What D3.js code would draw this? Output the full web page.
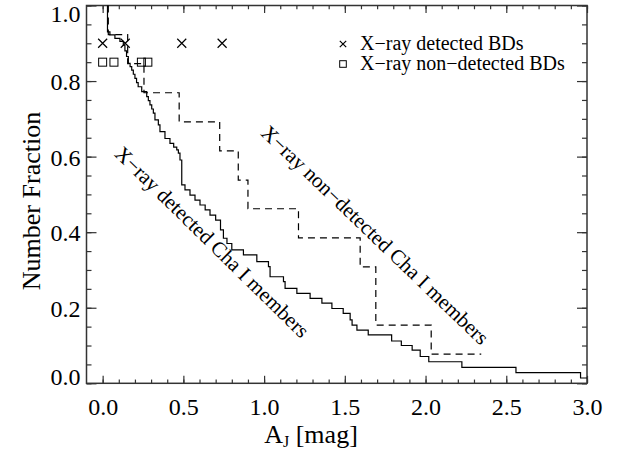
<!DOCTYPE html>
<html>
<head>
<meta charset="utf-8">
<script src="https://cdn.jsdelivr.net/npm/d3@7"></script>
<style>
  body { margin: 0; background: #fff; }
  text { font-family: "Liberation Serif", "Times New Roman", serif; fill: #000; }
</style>
</head>
<body>
<svg id="chart" width="626" height="450"></svg>
<script>
// X-ray detected Cha I members: A_J where the fraction steps down, and the fraction after the step
const solidAJ = [0.03, 0.045, 0.076, 0.107, 0.128, 0.138, 0.148, 0.159, 0.17, 0.18, 0.19, 0.20, 0.21, 0.22,
  0.242, 0.273, 0.283, 0.293, 0.304, 0.314, 0.324, 0.345, 0.355, 0.386, 0.417, 0.44, 0.459, 0.469, 0.479,
  0.49, 0.51, 0.541, 0.572, 0.603, 0.635, 0.665, 0.70, 0.73, 0.748, 0.77, 0.80, 0.872, 0.955, 1.027, 1.037,
  1.12, 1.13, 1.203, 1.285, 1.358, 1.42, 1.49, 1.533, 1.545, 1.575, 1.645, 1.79, 1.85, 1.917, 1.967, 2.02,
  2.225, 2.56, 2.96];
const solidFrac = [0.930, 0.922, 0.913, 0.905, 0.895, 0.880, 0.865, 0.847, 0.838, 0.829, 0.818, 0.807, 0.796, 0.785,
  0.772, 0.759, 0.748, 0.737, 0.726, 0.715, 0.697, 0.684, 0.666, 0.648, 0.635, 0.625, 0.618, 0.609, 0.591,
  0.525, 0.512, 0.498, 0.485, 0.472, 0.459, 0.445, 0.432, 0.406, 0.384, 0.370, 0.353, 0.340, 0.322, 0.309, 0.282,
  0.269, 0.251, 0.238, 0.225, 0.212, 0.198, 0.185, 0.168, 0.154, 0.141, 0.128, 0.112, 0.100, 0.088, 0.071, 0.057,
  0.042, 0.028, 0.014];
const solidEnd = 3.0;

// X-ray non-detected Cha I members
const dashedAJ = [0.035, 0.155, 0.256, 0.474, 0.725, 0.84, 0.90, 1.213, 1.595, 1.692, 2.035];
const dashedFrac = [0.923, 0.846, 0.769, 0.692, 0.615, 0.538, 0.462, 0.385, 0.308, 0.154, 0.077];
const dashedEnd = 2.345;

// brown dwarfs, drawn at fixed heights
const detBD = [0.0, 0.14, 0.49, 0.74];
const detBDLevel = 0.9;
const nondetBD = [0.0, 0.07, 0.24, 0.28];
const nondetBDLevel = 0.85;

const xTicks = [0.0, 0.5, 1.0, 1.5, 2.0, 2.5, 3.0];
const xMinor = d3.range(0, 31).map(i => i / 10);
const yTicks = [0.0, 0.2, 0.4, 0.6, 0.8, 1.0];
const yMinor = d3.range(0, 21).map(i => i / 20);

const plotLeft = 86.5, plotRight = 587, plotTop = 5.5, plotBottom = 383.3;
const frameColor = "#333";

const svg = d3.select("#chart");

const x = d3.scaleLinear().domain([-0.1, 3.0]).range([plotLeft, plotRight]);
const y = d3.scaleLinear().domain([0, 1]).range([plotBottom, plotTop]);

function styleAxis(g) {
  g.select(".domain").remove();
  g.selectAll("line").attr("stroke", frameColor).attr("stroke-width", 1.2);
  g.attr("font-family", "Liberation Serif, Times New Roman, serif").attr("font-size", 24);
}

// bottom
svg.append("g").attr("transform", `translate(0,${plotBottom})`)
   .call(d3.axisBottom(x).tickValues(xMinor).tickSize(-3.75).tickFormat(""))
   .call(styleAxis);
svg.append("g").attr("transform", `translate(0,${plotBottom})`)
   .call(d3.axisBottom(x).tickValues(xTicks).tickSize(-7.5).tickPadding(15).tickFormat(d3.format(".1f")))
   .call(styleAxis);
// top
svg.append("g").attr("transform", `translate(0,${plotTop})`)
   .call(d3.axisTop(x).tickValues(xMinor).tickSize(-3.75).tickFormat(""))
   .call(styleAxis);
svg.append("g").attr("transform", `translate(0,${plotTop})`)
   .call(d3.axisTop(x).tickValues(xTicks).tickSize(-7.5).tickFormat(""))
   .call(styleAxis);
// left
svg.append("g").attr("transform", `translate(${plotLeft},0)`)
   .call(d3.axisLeft(y).tickValues(yMinor).tickSize(-5).tickFormat(""))
   .call(styleAxis);
svg.append("g").attr("transform", `translate(${plotLeft},0)`)
   .call(d3.axisLeft(y).tickValues(yTicks).tickSize(-10).tickPadding(6).tickFormat(d3.format(".1f")))
   .call(styleAxis)
   .selectAll("text")
   .attr("dy", d => d === 0 ? "0.05em" : d === 1 ? "0.68em" : "0.36em");
// right
svg.append("g").attr("transform", `translate(${plotRight},0)`)
   .call(d3.axisRight(y).tickValues(yMinor).tickSize(-5).tickFormat(""))
   .call(styleAxis);
svg.append("g").attr("transform", `translate(${plotRight},0)`)
   .call(d3.axisRight(y).tickValues(yTicks).tickSize(-10).tickFormat(""))
   .call(styleAxis);

svg.append("rect")
   .attr("x", plotLeft).attr("y", plotTop)
   .attr("width", plotRight - plotLeft).attr("height", plotBottom - plotTop)
   .attr("fill", "none").attr("stroke", frameColor).attr("stroke-width", 1.5);

// step curves
const step = d3.line().x(d => x(d[0])).y(d => y(d[1])).curve(d3.curveStepAfter);

function stepPoints(aj, frac, end) {
  const pts = [[aj[0], 1.0]];
  aj.forEach((v, i) => pts.push([v, frac[i]]));
  pts.push([end, frac[frac.length - 1]]);
  return pts;
}

svg.append("path")
   .attr("d", step(stepPoints(solidAJ, solidFrac, solidEnd)))
   .attr("fill", "none").attr("stroke", "#000").attr("stroke-width", 1.2);

svg.append("path")
   .attr("d", step(stepPoints(dashedAJ, dashedFrac, dashedEnd)))
   .attr("fill", "none").attr("stroke", "#000").attr("stroke-width", 1.2)
   .attr("stroke-dasharray", "7,5");

// markers
function drawCross(cx, cy, s) {
  svg.append("path")
     .attr("d", `M${cx - s},${cy - s}L${cx + s},${cy + s}M${cx - s},${cy + s}L${cx + s},${cy - s}`)
     .attr("stroke", "#000").attr("stroke-width", 1.2).attr("fill", "none");
}
function drawSquare(cx, cy, s) {
  svg.append("rect")
     .attr("x", cx - s).attr("y", cy - s).attr("width", 2 * s).attr("height", 2 * s)
     .attr("stroke", "#000").attr("stroke-width", 1).attr("fill", "none");
}

detBD.forEach(v => drawCross(x(v), y(detBDLevel), 4.5));
nondetBD.forEach(v => drawSquare(x(v), y(nondetBDLevel), 4));

// legend
drawCross(343, 44, 3.2);
svg.append("text").attr("x", 360).attr("y", 50).attr("font-size", 20).text("X\u2212ray detected BDs");
drawSquare(343, 64, 3.3);
svg.append("text").attr("x", 360).attr("y", 70).attr("font-size", 20).text("X\u2212ray non\u2212detected BDs");

// curve labels
svg.append("text")
   .attr("transform", "translate(212,242) rotate(44.5)")
   .attr("text-anchor", "middle").attr("dominant-baseline", "central")
   .attr("font-size", 21)
   .text("X\u2212ray detected Cha I members");
svg.append("text")
   .attr("transform", "translate(375,235) rotate(43.8)")
   .attr("text-anchor", "middle").attr("dominant-baseline", "central")
   .attr("font-size", 21)
   .text("X\u2212ray non\u2212detected Cha I members");

// axis titles
const xt = svg.append("text")
   .attr("x", 311).attr("y", 443)
   .attr("text-anchor", "middle").attr("font-size", 26);
xt.append("tspan").text("A");
xt.append("tspan").attr("font-size", 16).attr("dy", 4).text("J");
xt.append("tspan").attr("dy", -4).text(" [mag]");

svg.append("text")
   .attr("transform", "translate(40,201) rotate(-90)")
   .attr("text-anchor", "middle").attr("font-size", 26)
   .text("Number Fraction");
</script>
</body>
</html>
